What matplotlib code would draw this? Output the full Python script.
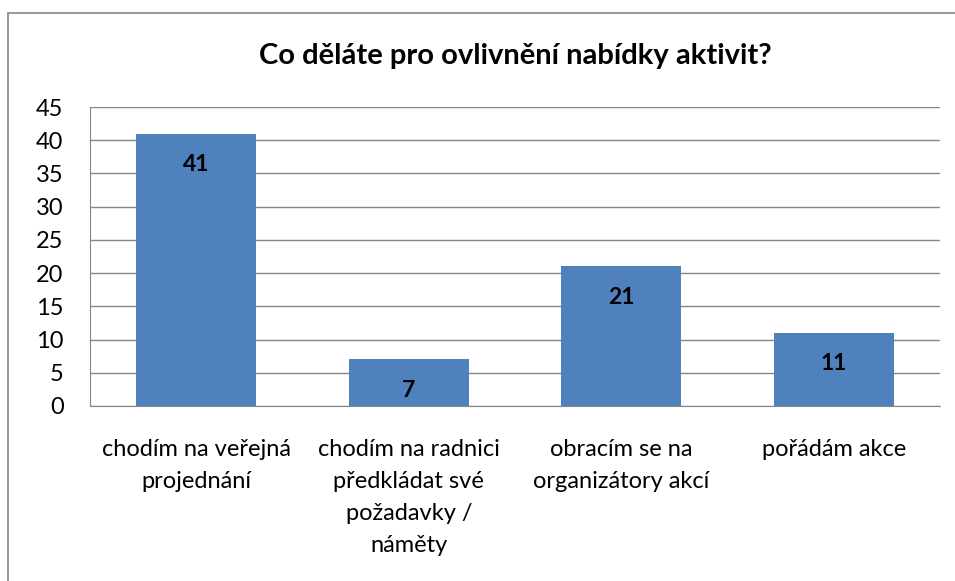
import matplotlib
matplotlib.use('Agg')
import matplotlib.pyplot as plt
from matplotlib.patches import Rectangle

plt.rcParams['font.family'] = ['Lato', 'DejaVu Sans']

# data
categories = ['chodím na veřejná\nprojednání',
              'chodím na radnici\npředkládat své\npožadavky /\nnáměty',
              'obracím se na\norganizátory akcí',
              'pořádám akce']
values = [41, 7, 21, 11]
yticks = list(range(0, 50, 5))
title = 'Co děláte pro ovlivnění nabídky aktivit?'

W, H = 955, 581
fig = plt.figure(figsize=(W / 100, H / 100), dpi=100)

# outer chart border (only left/top visible in the crop)
fig.patches.append(Rectangle((8 / W, -0.05), 1.2, 1 - 13 / H + 0.05,
                             transform=fig.transFigure, fill=False,
                             edgecolor='#868686', linewidth=1.2))

ax = fig.add_axes([90 / W, 1 - 406 / H, (940 - 90) / W, (406 - 107) / H])
x = range(len(values))
bars = ax.bar(x, values, width=0.565, color='#4F81BD', zorder=3)

for b, v in zip(bars, values):
    ax.annotate(str(v), (b.get_x() + b.get_width() / 2, v),
                xytext=(0, -22), textcoords='offset points',
                ha='center', va='center', fontsize=16.5, fontweight='bold')

ax.set_xlim(-0.5, len(values) - 0.5)
ax.set_ylim(0, 45)
ax.set_yticks(yticks)
ax.yaxis.grid(True, color='#868686', linewidth=1, zorder=0)
ax.set_axisbelow(True)
for s in ['top', 'right']:
    ax.spines[s].set_visible(False)
ax.spines['left'].set_color('#868686')
ax.spines['bottom'].set_color('#868686')
ax.tick_params(axis='y', length=0, pad=19, labelsize=17)
ax.tick_params(axis='x', length=0, pad=24, labelsize=17)
ax.set_xticks(list(x))
ax.set_xticklabels(categories, linespacing=1.65)

fig.text((90 + 940) / 2 / W, 1 - 56 / H, title, ha='center', va='center',
         fontsize=21, fontweight='bold')

fig.savefig('out.png', dpi=100)
